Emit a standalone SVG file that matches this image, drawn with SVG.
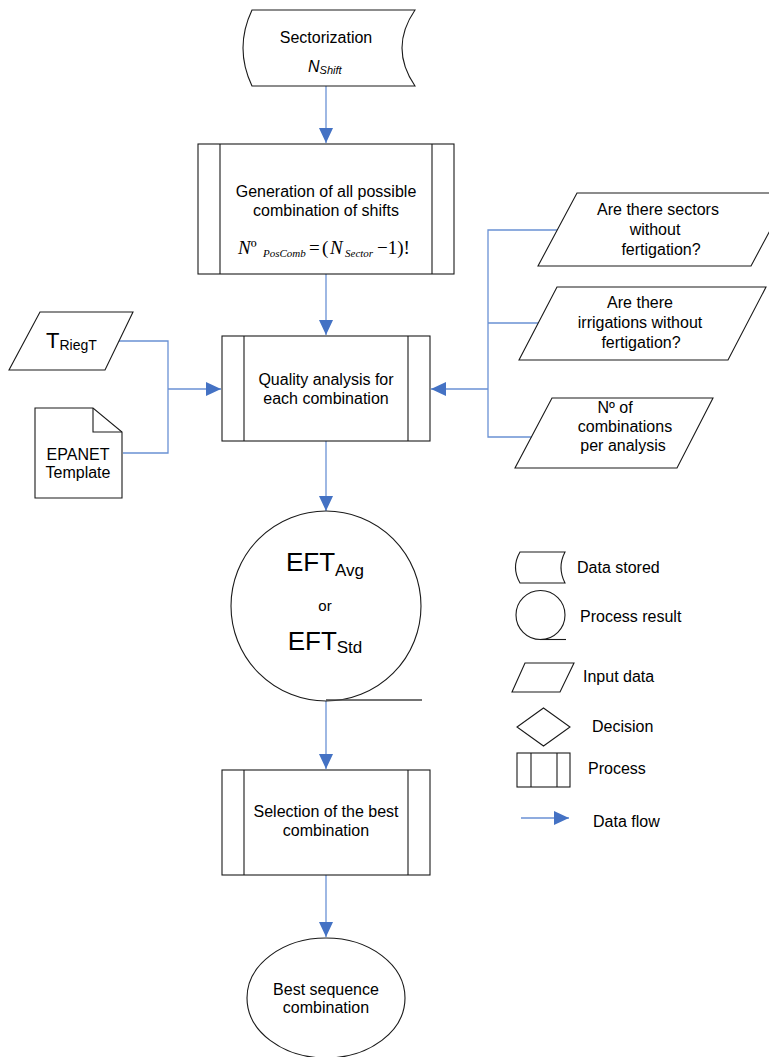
<svg xmlns="http://www.w3.org/2000/svg" width="769" height="1057" viewBox="0 0 769 1057">
<style>
.s{fill:#fff;stroke:#1a1a1a;stroke-width:1.1}
.n{fill:none;stroke:#1a1a1a;stroke-width:1.1}
.t{font-family:"Liberation Sans",Arial,sans-serif;font-size:16px;fill:#000}
.m{text-anchor:middle}
.c{fill:none;stroke:#6a91d4;stroke-width:1.3}
.f{font-family:"Liberation Serif","Times New Roman",serif;font-size:19px;fill:#000}
</style>
<defs>
<marker id="ah" markerUnits="userSpaceOnUse" markerWidth="16" markerHeight="15" refX="15" refY="7" orient="auto">
<path d="M0,0 L15,7 L0,14 z" fill="#4472c4"/>
</marker>
</defs>

<g id="connectors">
<path class="c" d="M326,86 V143" marker-end="url(#ah)"/>
<path class="c" d="M326,274 V335" marker-end="url(#ah)"/>
<path class="c" d="M326,441 V511" marker-end="url(#ah)"/>
<path class="c" d="M326,701 V769" marker-end="url(#ah)"/>
<path class="c" d="M326,875 V937" marker-end="url(#ah)"/>
<path class="c" d="M118,341 H168 V453 H123"/>
<path class="c" d="M168,389 H221" marker-end="url(#ah)"/>
<path class="c" d="M557,230 H488 V437 H535 M488,323 H538"/>
<path class="c" d="M488,389 H431" marker-end="url(#ah)"/>
</g>

<g id="sectorization">
<path class="s" d="M252,10 L415,10 Q389,48 415,86 L252,86 Q234,48 252,10 Z"/>
<text class="t m" x="326" y="43">Sectorization</text>
<text class="t" x="308" y="72" style="font-style:italic">N<tspan style="font-size:11px" dy="2">Shift</tspan></text>
</g>

<g id="generation">
<rect class="s" x="198" y="144" width="256" height="130"/>
<path class="n" d="M220,144 V274 M432,144 V274"/>
<text class="t m" x="326" y="197">Generation of all possible</text>
<text class="t m" x="326" y="216">combination of shifts</text>
<text class="f" y="254"><tspan x="238" style="font-style:italic">N</tspan><tspan>º</tspan><tspan x="263" dy="3" style="font-size:11px;font-style:italic">PosComb</tspan><tspan x="309" dy="-3">=</tspan><tspan x="322">(</tspan><tspan x="330" style="font-style:italic">N</tspan><tspan x="345" dy="3" style="font-size:11px;font-style:italic">Sector</tspan><tspan x="377" dy="-3">−1)!</tspan></text>
</g>

<g id="sectors-input">
<path class="s" d="M577,193 L790,193 L751,266 L538,266 Z"/>
<text class="t m" x="658" y="215">Are there sectors</text>
<text class="t m" x="655" y="235">without</text>
<text class="t m" x="661" y="255">fertigation?</text>
</g>

<g id="irrigations-input">
<path class="s" d="M557,287 L766,287 L728,360 L519,360 Z"/>
<text class="t m" x="640" y="308">Are there</text>
<text class="t m" x="640" y="328">irrigations without</text>
<text class="t m" x="641" y="348">fertigation?</text>
</g>

<g id="combinations-input">
<path class="s" d="M552,398 L713,398 L677,468 L515,468 Z"/>
<text class="t m" x="615" y="413">Nº of</text>
<text class="t m" x="625" y="432">combinations</text>
<text class="t m" x="623" y="451">per analysis</text>
</g>

<g id="triegt">
<path class="s" d="M40,312 L133,312 L105,370 L9,370 Z"/>
<text class="t" x="46" y="348" style="font-size:22px">T<tspan style="font-size:14px" dy="2">RiegT</tspan></text>
</g>

<g id="epanet">
<path class="s" d="M35,408 L93,408 L122,432 L122,498 L35,498 Z"/>
<path class="n" d="M93,408 V432 H122"/>
<text class="t m" x="78" y="460">EPANET</text>
<text class="t m" x="78" y="478">Template</text>
</g>

<g id="quality">
<rect class="s" x="222" y="336" width="208" height="105"/>
<path class="n" d="M244,336 V441 M408,336 V441"/>
<text class="t m" x="326" y="385">Quality analysis for</text>
<text class="t m" x="326" y="404">each combination</text>
</g>

<g id="eft">
<circle class="s" cx="326" cy="606" r="95"/>
<path d="M326,700 H422" fill="none" stroke="#444" stroke-width="1.3"/>
<text class="t m" x="325" y="571" style="font-size:26px">EFT<tspan style="font-size:17px" dy="5">Avg</tspan></text>
<text class="t m" x="325" y="611" style="font-size:15px">or</text>
<text class="t m" x="325" y="650" style="font-size:26px">EFT<tspan style="font-size:17px" dy="3">Std</tspan></text>
</g>

<g id="selection">
<rect class="s" x="222" y="770" width="208" height="105"/>
<path class="n" d="M244,770 V875 M408,770 V875"/>
<text class="t m" x="326" y="817">Selection of the best</text>
<text class="t m" x="326" y="836">combination</text>
</g>

<g id="best">
<ellipse class="s" cx="326" cy="998" rx="79" ry="60"/>
<text class="t m" x="326" y="995">Best sequence</text>
<text class="t m" x="326" y="1013">combination</text>
</g>

<g id="legend">
<path class="s" d="M520,552 L565,552 Q557,567.5 565,583 L520,583 Q511,567.5 520,552 Z"/>
<text class="t" x="577" y="573">Data stored</text>
<circle class="s" cx="540.5" cy="615" r="24.5"/>
<path class="n" d="M540,639.5 H566"/>
<text class="t" x="580" y="622">Process result</text>
<path class="s" d="M525,663 L574,663 L560,692 L512,692 Z"/>
<text class="t" x="583" y="682">Input data</text>
<path class="s" d="M543.5,708 L570,727 L543.5,746 L517,727 Z"/>
<text class="t" x="592" y="732">Decision</text>
<rect class="s" x="517" y="753" width="53" height="34"/>
<path class="n" d="M531,753 V787 M557,753 V787"/>
<text class="t" x="588" y="774">Process</text>
<path class="c" d="M521,818 H569" marker-end="url(#ah)"/>
<text class="t" x="593" y="827">Data flow</text>
</g>
</svg>
